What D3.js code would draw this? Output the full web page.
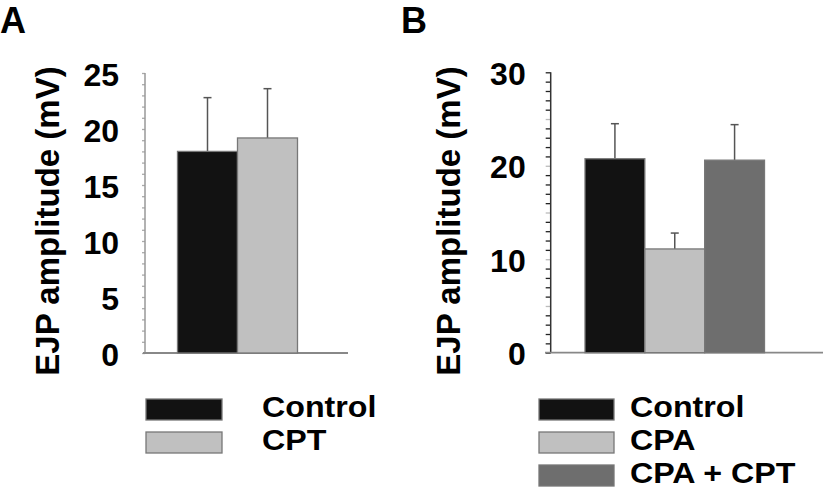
<!DOCTYPE html>
<html><head><meta charset="utf-8">
<script src="https://cdn.jsdelivr.net/npm/d3@7"></script>
<style>
html,body{margin:0;padding:0;background:#fff;}
text{font-family:"Liberation Sans",Arial,sans-serif;font-weight:bold;fill:#000;}
</style></head>
<body>
<svg id="c" width="826" height="490"></svg>
<script>
// Panel A data
const catsA = ["Control", "CPT"];
const meansA = [18.0, 19.2];
const errsA = [4.8, 4.4];
const ticksA = [0, 5, 10, 15, 20, 25];
// Panel B data
const catsB = ["Control", "CPA", "CPA + CPT"];
const meansB = [20.75, 11.1, 20.6];
const errsB = [3.75, 1.7, 3.8];
const ticksB = [0, 10, 20, 30];

const colors = {"Control": "#121212", "CPT": "#c0c0c0", "CPA": "#c0c0c0", "CPA + CPT": "#6e6e6e"};
const yLabel = "EJP amplitude (mV)";

const svg = d3.select("#c");

function panel(opt) {
  const g = svg.append("g");
  const y = d3.scaleLinear().domain([0, opt.max]).range([opt.y0, opt.y1]);
  const x = d3.scaleBand().domain(opt.cats).range(opt.xr).padding(0);

  // minor ticks
  const minor = g.append("g").attr("transform", `translate(${opt.ax},0)`)
    .call(d3.axisLeft(y).tickValues(d3.range(0, opt.max + 1)).tickSize(opt.tickLen).tickFormat(""));
  minor.select(".domain").remove();
  minor.selectAll(".tick line").attr("stroke", d => opt.tickColor(d)).attr("stroke-width", 1.3);

  // labels
  const lab = g.append("g").attr("transform", `translate(${opt.ax},0)`)
    .call(d3.axisLeft(y).tickValues(opt.ticks).tickSize(0).tickPadding(opt.pad).tickFormat(d3.format("d")));
  lab.select(".domain").remove();
  lab.selectAll("text").attr("font-size", 32).attr("font-family", '"Liberation Sans",Arial,sans-serif')
    .attr("font-weight", "bold").attr("fill", "#000").attr("dy", "0.38em");

  // axis lines
  g.append("line").attr("x1", opt.ax).attr("x2", opt.ax).attr("y1", y(opt.max)).attr("y2", y(0))
    .attr("stroke", opt.axColor).attr("stroke-width", 1.5);
  g.append("line").attr("x1", opt.bx0).attr("x2", opt.bx1).attr("y1", y(0)).attr("y2", y(0))
    .attr("stroke", "#888").attr("stroke-width", 1.8);

  // error bars
  opt.cats.forEach((c, i) => {
    const cx = x(c) + x.bandwidth() / 2;
    g.append("line").attr("x1", cx).attr("x2", cx).attr("y1", y(opt.means[i])).attr("y2", y(opt.means[i] + opt.errs[i]))
      .attr("stroke", "#555").attr("stroke-width", 1.5);
    g.append("line").attr("x1", cx - 4).attr("x2", cx + 4).attr("y1", y(opt.means[i] + opt.errs[i])).attr("y2", y(opt.means[i] + opt.errs[i]))
      .attr("stroke", "#555").attr("stroke-width", 1.5);
  });
  // bars
  g.selectAll("rect.bar").data(opt.cats).enter().append("rect").attr("class", "bar")
    .attr("x", d => x(d)).attr("width", x.bandwidth())
    .attr("y", (d, i) => y(opt.means[i])).attr("height", (d, i) => y(0) - y(opt.means[i]))
    .attr("fill", d => colors[d]).attr("stroke", "#777").attr("stroke-width", 1.3);

  // y label
  g.append("text").attr("transform", `translate(${opt.lx},${opt.ly}) rotate(-90)`)
    .attr("text-anchor", "middle").attr("font-size", 33).text(yLabel);
  // panel letter
  g.append("text").attr("x", opt.px).attr("y", 33).attr("font-size", 36).text(opt.letter);

  // legend
  opt.cats.forEach((c, i) => {
    const ly = opt.legY[i];
    g.append("rect").attr("x", opt.legX).attr("y", ly).attr("width", opt.legW).attr("height", 21)
      .attr("fill", colors[c]).attr("stroke", "#777").attr("stroke-width", 1.3);
    const t = g.append("text").attr("x", opt.legTX).attr("y", ly + 18).attr("font-size", 29).text(c);
    const w = t.node().getComputedTextLength();
    t.attr("textLength", w * 1.11).attr("lengthAdjust", "spacingAndGlyphs");
  });
}

panel({
  letter: "A", px: 0, cats: catsA, means: meansA, errs: errsA, ticks: ticksA, max: 25,
  y0: 353, y1: 73, xr: [177.5, 297.5], ax: 145, bx0: 143, bx1: 348,
  tickLen: 3, tickColor: d => "#aaa", axColor: "#999", pad: 26,
  lx: 59, ly: 221,
  legX: 146, legW: 76, legY: [399, 432], legTX: 262
});
panel({
  letter: "B", px: 401, cats: catsB, means: meansB, errs: errsB, ticks: ticksB, max: 30,
  y0: 352.7, y1: 72.3, xr: [585, 764.5], ax: 550.7, bx0: 545, bx1: 823,
  tickLen: 5, tickColor: d => (d % 5 === 0 && d !== 0 && d !== 30) ? "#bbb" : "#222", axColor: "#333", pad: 25,
  lx: 460, ly: 221,
  legX: 539, legW: 75, legY: [399, 432, 465], legTX: 630
});
</script>
</body></html>
